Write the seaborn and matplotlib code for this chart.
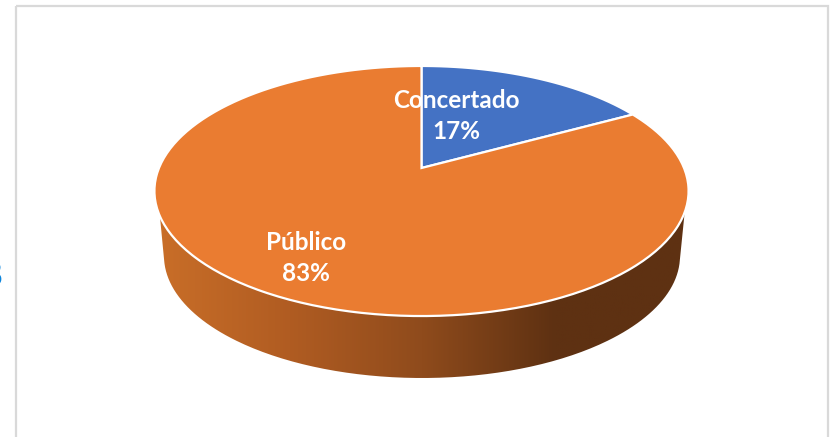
import numpy as np
import matplotlib
matplotlib.use("Agg")
import matplotlib.pyplot as plt
import seaborn as sns
from matplotlib.patches import PathPatch, Rectangle
from matplotlib.path import Path
from matplotlib.transforms import Affine2D, Transform

# Data
categories = ["Concertado", "Público"]
percentages = [17, 83]
slice_colors = ["#4472C4", "#EA7C31"]
side_colors = ["#C96E28", "#B05C22", "#8F4B1C", "#5E3112", "#5E3112"]


class TiltTransform(Transform):
    # perspective view of the unit pie, output in picture pixels
    input_dims = 2
    output_dims = 2

    def __init__(self, cx, cy, sx, sy, k):
        super().__init__()
        self.cx, self.cy, self.sx, self.sy, self.k = cx, cy, sx, sy, k

    def transform_non_affine(self, xy):
        xy = np.asarray(xy, dtype=float)
        w = 1 + self.k * xy[:, 1]
        return np.column_stack([self.cx + self.sx * xy[:, 0] / w, self.cy - self.sy * xy[:, 1] / w])

    def transform_path_non_affine(self, path):
        # flatten the bezier arcs first so the outline stays smooth
        big = path.transformed(Affine2D().scale(500))
        flat = big.to_polygons(closed_only=False)[0] / 500
        return Path(self.transform_non_affine(flat))


def rim(cx, cy, rx, ry, y_start, y_end, n=200):
    # lower part of an ellipse, from its left side to its right side
    a0 = np.arcsin((y_start - cy) / ry)
    a1 = np.arcsin((y_end - cy) / ry)
    t = np.linspace(np.pi - a0, a1, n)
    return np.column_stack([cx + rx * np.cos(t), cy + ry * np.sin(t)])


sns.set_theme(style="white")
plt.rcParams["font.family"] = ["Lato", "DejaVu Sans"]

fig, ax = plt.subplots(figsize=(8.32, 4.37), dpi=100)
fig.subplots_adjust(0, 0, 1, 1)

wedges, _ = ax.pie(
    percentages,
    colors=slice_colors,
    startangle=90,
    counterclock=False,
    wedgeprops={"edgecolor": "white", "linewidth": 1.6},
)
ax.set_aspect("auto")

# side wall of the pie
top_rim = rim(422, 191, 266, 125, 20 + 191, 19 + 191)
low_rim = rim(422, 256, 258, 122, 262, 262)
wall = np.vstack([top_rim, low_rim[::-1]])
side_cmap = sns.blend_palette(side_colors, as_cmap=True)
im = ax.imshow(
    np.linspace(0, 1, 256).reshape(1, -1),
    cmap=side_cmap,
    extent=(157, 688, 400, 190),
    aspect="auto",
    zorder=0,
)
im.set_clip_path(PathPatch(Path(wall), transform=ax.transData))

ax.set_xlim(0, 832)
ax.set_ylim(437, 0)
ax.set_frame_on(False)

tilt = TiltTransform(421.5, 168, 262.5, 120.8, 0.184)
for wedge in wedges:
    wedge.set_transform(tilt + ax.transData)
    wedge.set_zorder(2)
    wedge.set_clip_on(False)

# data labels
label_pos = [(456, 116), (306, 258)]
for cat, pct, (lx, ly) in zip(categories, percentages, label_pos):
    ax.text(lx, ly, f"{cat}\n{pct}%", color="white", fontsize=17.5, fontweight="bold",
            ha="center", va="center", linespacing=1.42, zorder=3)

# chart frame, open at the bottom of the crop
ax.add_patch(Rectangle((15.5, 6), 812, 440, fill=False, edgecolor="#D9D9D9", linewidth=1.6, zorder=1))

# piece of a blue glyph cut off by the left edge of the crop
ax.text(2.5, 276, "8", color="#0A84DC", fontsize=25, ha="right", va="center")

fig.savefig("out.png", dpi=100)
plt.close(fig)
